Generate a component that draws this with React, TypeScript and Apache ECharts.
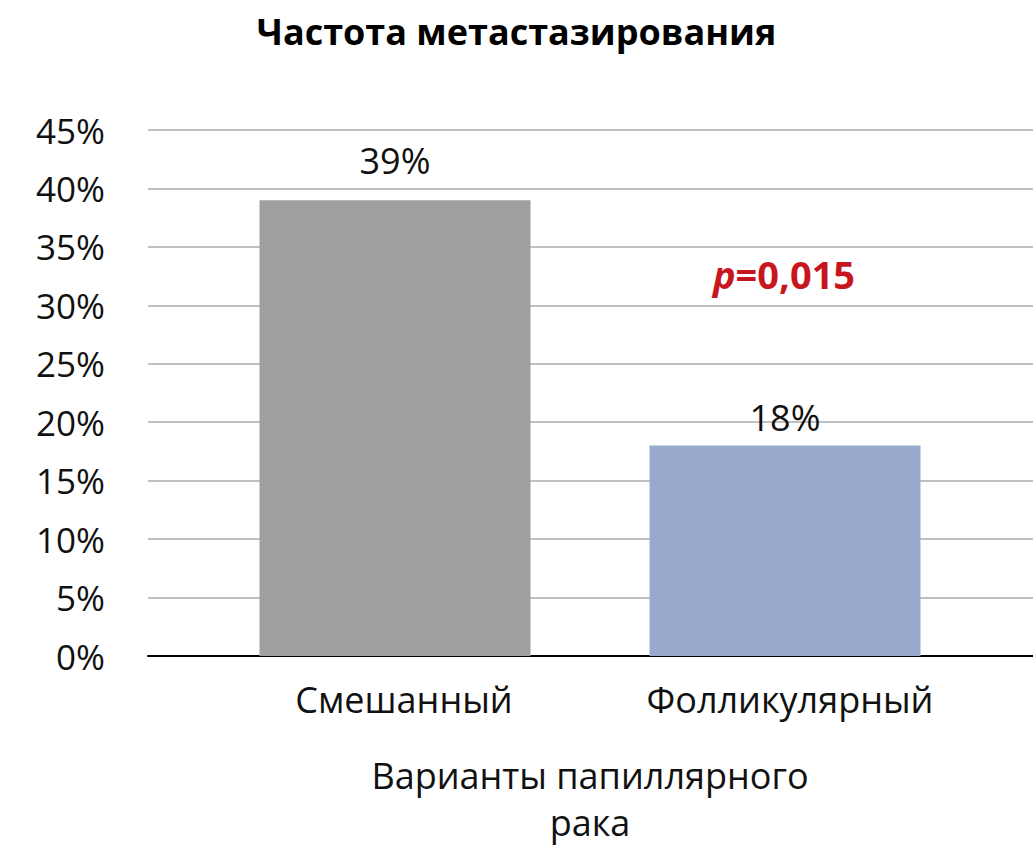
import React, { useEffect, useRef } from "react";
import * as echarts from "echarts";

const categories = ["Смешанный", "Фолликулярный"];
const values = [39, 18];
const barColors = ["#9f9f9e", "#99a9cc"];
const yTicks = { min: 0, max: 45, interval: 5 };
const titleText = "Частота метастазирования";
const xAxisName = "Варианты папиллярного\nрака";
const pValueText = "0,015";

const FONT = "'Open Sans', 'Noto Sans', sans-serif";
const labelShift = [18, 10];

export default function App() {
  const ref = useRef<HTMLDivElement>(null);
  useEffect(() => {
    if (!ref.current) return;
    const chart = echarts.init(ref.current, undefined, { renderer: "svg" });
    chart.setOption({
      animation: false,
      backgroundColor: "#ffffff",
      textStyle: { fontFamily: FONT },
      title: {
        text: titleText,
        left: "center",
        top: 8,
        textStyle: {
          fontFamily: FONT,
          fontSize: 36,
          fontWeight: "bold",
          color: "#000",
        },
      },
      grid: [
        { left: 148, right: 0, top: 130, bottom: 191, outerBoundsMode: "none" },
        { left: 200, right: 53, top: 130, bottom: 191, outerBoundsMode: "none" },
      ],
      xAxis: [
        {
          gridIndex: 0,
          type: "value",
          min: 0,
          max: 1,
          axisLine: { show: true, lineStyle: { color: "#000", width: 2 } },
          axisTick: { show: false },
          axisLabel: { show: false },
          splitLine: { show: false },
        },
        {
          gridIndex: 1,
          type: "category",
          data: categories.map((c, i) => ({
            value: c,
            textStyle: { padding: [0, 0, 0, labelShift[i]] },
          })),
          axisLine: { show: false },
          axisTick: { show: false },
          axisLabel: {
            fontSize: 36,
            color: "#111",
            margin: 25,
            fontFamily: FONT,
          },
          name: xAxisName,
          nameLocation: "middle",
          nameGap: 96,
          nameTextStyle: {
            fontSize: 36,
            color: "#111",
            lineHeight: 47,
            fontFamily: FONT,
          },
        },
      ],
      yAxis: [
        {
          gridIndex: 0,
          type: "value",
          min: yTicks.min,
          max: yTicks.max,
          interval: yTicks.interval,
          axisLine: { show: false },
          axisTick: { show: false },
          axisLabel: {
            formatter: "{value}%",
            fontSize: 35,
            color: "#111",
            margin: 43,
            fontFamily: FONT,
          },
          splitLine: { lineStyle: { color: "#ababab", width: 1.5 } },
        },
        {
          gridIndex: 1,
          type: "value",
          min: yTicks.min,
          max: yTicks.max,
          interval: yTicks.interval,
          show: false,
          splitLine: { show: false },
        },
      ],
      series: [
        {
          type: "bar",
          xAxisIndex: 1,
          yAxisIndex: 1,
          barWidth: 271,
          data: values.map((v, i) => ({
            value: v,
            itemStyle: { color: barColors[i] },
            label: { distance: i === 0 ? 22 : 10 },
          })),
          label: {
            show: true,
            position: "top",
            formatter: "{c}%",
            fontSize: 36,
            color: "#111",
            fontFamily: FONT,
          },
        },
      ],
      graphic: [
        {
          type: "text",
          left: 713,
          top: 255,
          style: {
            text: "{i|p}{b|=" + pValueText + "}",
            rich: {
              i: {
                fontSize: 38,
                fontWeight: "bold",
                fontStyle: "italic",
                fill: "#c8161e",
                fontFamily: FONT,
              },
              b: {
                fontSize: 38,
                fontWeight: "bold",
                fill: "#c8161e",
                fontFamily: FONT,
              },
            },
          },
        },
      ],
    });
    return () => chart.dispose();
  }, []);
  return (
    <div
      ref={ref}
      style={{ position: "fixed", left: 0, top: 0, width: 1033, height: 847 }}
    />
  );
}
